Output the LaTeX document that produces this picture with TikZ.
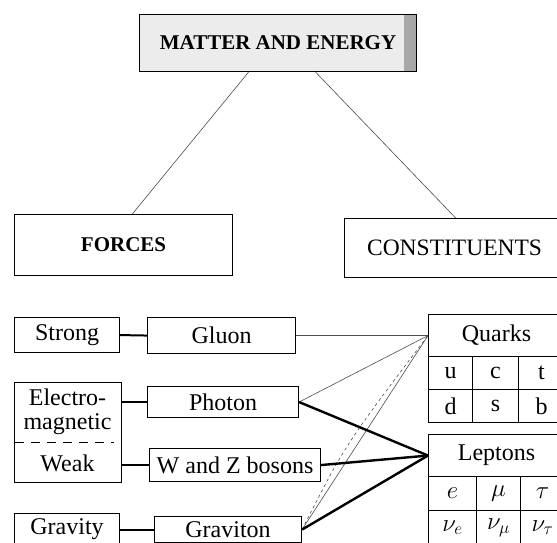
\documentclass[tikz,border=0pt]{standalone}
\usepackage{fontspec}
\setmainfont{Liberation Serif}
\usetikzlibrary{calc}
\begin{document}
\begin{tikzpicture}[x=1pt,y=-1pt,
  box/.style={draw, line width=1.1pt, inner sep=0pt, anchor=north west,
    font=\fontsize{24}{26}\selectfont},
  title/.style={box, font=\fontsize{21}{24}\selectfont\bfseries},
  plain/.style={inner sep=0pt, font=\fontsize{24}{26}\selectfont},
  thinline/.style={line width=0.6pt, black!70},
  thickline/.style={line width=2.4pt},
  shortline/.style={line width=2pt}]
\clip (0,0) rectangle (557,542);
% top level
\node[title, fill=gray!15, minimum width=277pt, minimum height=57pt,
  path picture={\shade[left color=gray!20, right color=gray!70]
    ($(path picture bounding box.north east)+(-12,0)$) rectangle (path picture bounding box.south east);}]
  (matter) at (139,14) {MATTER AND ENERGY};
\node[title, minimum width=218pt, minimum height=61pt] (forces) at (14,214) {FORCES};
\node[box, font=\fontsize{23.5}{26}\selectfont, minimum width=220pt, minimum height=59pt] (constit) at (344,218) {CONSTITUENTS};
\draw[thinline] ($(matter.south west)!0.394!(matter.south east)$) -- ($(forces.north west)!0.54!(forces.north east)$);
\draw[thinline] ($(matter.south west)!0.635!(matter.south east)$) -- ($(constit.north west)!0.505!(constit.north east)$);
% forces
\node[box, minimum width=105pt, minimum height=35pt] (strong) at (14,317) {Strong};
\node[box, minimum width=148pt, minimum height=36pt] (gluon) at (147,317) {Gluon};
\node[box, minimum width=107pt, minimum height=100pt] (ew) at (14,382) {};
\node[plain] (electro) at (67.5,397) {Electro-};
\node[plain] (magnetic) at (67.5,424) {magnetic};
\node[plain] (weak) at (67.5,463) {Weak};
\draw[line width=1.1pt, dash pattern=on 9pt off 7pt] ($(ew.west)+(1,10)$) -- ($(ew.east)+(-8,10)$);
\node[box, minimum width=151pt, minimum height=31pt] (photon) at (147,386) {Photon};
\node[box, minimum width=171pt, minimum height=33pt] (wz) at (149,448) {W and Z bosons};
\node[box, minimum width=105pt, minimum height=32pt] (gravity) at (14,513) {Gravity};
\node[box, minimum width=147pt, minimum height=26pt] (graviton) at (154,516) {Graviton};
\draw[shortline] (strong.east) -- (gluon.west);
\draw[shortline] (ew.east |- photon.west) -- (photon.west);
\draw[shortline] (ew.east |- wz.west) -- (wz.west);
\draw[shortline] (gravity.east) -- (gravity.east -| graviton.west);
% constituents
\node[box, minimum width=136pt, minimum height=42pt] (quarks) at (428,314) {Quarks};
\node[box, minimum width=44pt, minimum height=33pt] (u) at (428,356) {u};
\node[box, minimum width=46pt, minimum height=33pt] (c) at (472,356) {c};
\node[box, minimum width=46pt, minimum height=33pt] (t) at (518,356) {t};
\node[box, minimum width=44pt, minimum height=33pt] (d) at (428,389) {d};
\node[box, minimum width=46pt, minimum height=33pt] (s) at (472,389) {s};
\node[box, minimum width=46pt, minimum height=33pt] (b) at (518,389) {b};
\node[box, minimum width=136pt, minimum height=42pt] (leptons) at (428,434) {Leptons};
\node[box, minimum width=48pt, minimum height=34pt] (e) at (428,476) {$e$};
\node[box, minimum width=44pt, minimum height=34pt] (mu) at (476,476) {$\mu$};
\node[box, minimum width=44pt, minimum height=34pt] (tau) at (520,476) {$\tau$};
\node[box, minimum width=48pt, minimum height=34pt] (nue) at (428,510) {$\nu_e$};
\node[box, minimum width=44pt, minimum height=34pt] (numu) at (476,510) {$\nu_\mu$};
\node[box, minimum width=44pt, minimum height=34pt] (nutau) at (520,510) {$\nu_\tau$};
% links
\draw[thinline] (gluon.east) -- (quarks.west);
\draw[thinline] (photon.east) -- (quarks.west);
\draw[thinline] (graviton.east) -- (quarks.west);
\draw[thinline, dashed] (graviton.east) .. controls (345,445) .. (quarks.west);
\draw[thickline] (photon.east) -- (leptons.west);
\draw[thickline] (wz.east) -- (leptons.west);
\draw[thickline] (graviton.east) -- (leptons.west);
\end{tikzpicture}
\end{document}
